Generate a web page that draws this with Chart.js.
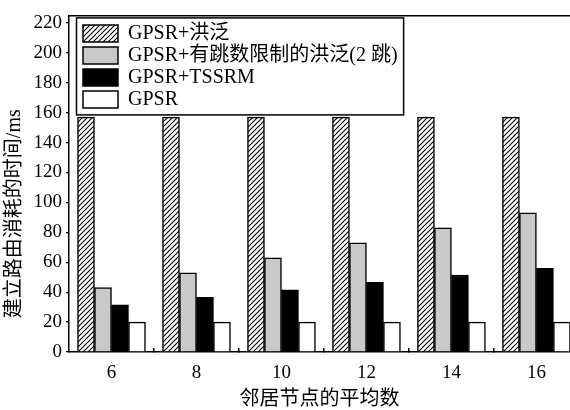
<!DOCTYPE html>
<html>
<head>
<meta charset="utf-8">
<script src="https://cdn.jsdelivr.net/npm/chart.js@4.4.0/dist/chart.umd.min.js"></script>
<style>
  html, body { margin: 0; padding: 0; background: #fff; }
</style>
</head>
<body>
<canvas id="myChart" width="570" height="410"></canvas>
<script>
// datos
const vecinos = [6, 8, 10, 12, 14, 16]
const etiquetas = ['GPSR+洪泛', 'GPSR+有跳数限制的洪泛(2 跳)', 'GPSR+TSSRM', 'GPSR']
const valoresInundacion = [157, 157, 157, 157, 157, 157]
const valoresSaltos = [43, 53, 63, 73, 83, 93]
const valoresTSSRM = [31.5, 36.5, 41.5, 46.5, 51.5, 56]
const valoresGPSR = [20, 20, 20, 20, 20, 20]
const ticksY = [0, 20, 40, 60, 80, 100, 120, 140, 160, 180, 200, 220]

const fuente = "'Liberation Serif', 'Noto Sans CJK SC', serif"

// la figura original esta recortada a la derecha: el eje x llega a ~16.8
const minX = 5
const maxX = 16.79

// relleno rayado (/) para la primera serie
function rayado() {
    const c = document.createElement('canvas')
    c.width = 5
    c.height = 5
    const g = c.getContext('2d')
    g.fillStyle = '#fff'
    g.fillRect(0, 0, 5, 5)
    g.strokeStyle = '#000'
    g.lineWidth = 1.1
    g.beginPath()
    g.moveTo(-1, 6); g.lineTo(6, -1)
    g.moveTo(-1, 1); g.lineTo(1, -1)
    g.moveTo(4, 6); g.lineTo(6, 4)
    g.stroke()
    return g.createPattern(c, 'repeat')
}

function puntos(valores) {
    return vecinos.map((x, i) => ({ x: x, y: valores[i] }))
}

// marcas pequeñas entre grupos (7, 9, ... 15) y etiquetas en 6, 8, ... 16
function marcasX() {
    let arr = []
    for (let i = 0; i < vecinos.length; i++) {
        arr.push({ value: vecinos[i] })
        if (i < vecinos.length - 1) arr.push({ value: vecinos[i] + 1 })
    }
    return arr
}

// la leyenda va dentro del area con un marco
const marcoLeyenda = {
    id: 'marcoLeyenda',
    afterLayout(chart) {
        const lg = chart.legend
        const ca = chart.chartArea
        lg.left = ca.left + 12
        lg.top = ca.top + 6
        lg.right = lg.left + lg.width
        lg.bottom = lg.top + lg.height
    },
    afterDraw(chart) {
        const lg = chart.legend
        const lab = lg.options.labels
        const pad = lab.padding
        const itemH = Math.max(lab.font.size, lab.boxHeight)
        const n = lg.legendItems.length
        const colW = lg.columnSizes[0].width
        const x0 = lg.left + pad - 6.5
        const y0 = lg.top + pad - 5.5
        const x1 = lg.left + pad + colW + 6
        const y1 = lg.top + pad + n * itemH + (n - 1) * pad + 5.5
        const ctx = chart.ctx
        ctx.save()
        ctx.strokeStyle = '#000'
        ctx.lineWidth = 1.5
        ctx.strokeRect(x0, y0, x1 - x0, y1 - y0)
        ctx.restore()
    }
}

function grafico_Barras() {
    const ctx = document.getElementById('myChart')

    const comun = { borderColor: '#000', borderWidth: 1.5, barThickness: 17 }

    new Chart(ctx, {
        type: 'bar',
        data: {
            datasets: [
                Object.assign({ label: etiquetas[0], data: puntos(valoresInundacion), backgroundColor: rayado() }, comun),
                Object.assign({ label: etiquetas[1], data: puntos(valoresSaltos), backgroundColor: '#c9c9c9' }, comun),
                Object.assign({ label: etiquetas[2], data: puntos(valoresTSSRM), backgroundColor: '#000' }, comun),
                Object.assign({ label: etiquetas[3], data: puntos(valoresGPSR), backgroundColor: '#fff' }, comun)
            ]
        },
        plugins: [marcoLeyenda],
        options: {
            responsive: false,
            animation: false,
            layout: { padding: { top: 13, right: 0, bottom: 0, left: 0 } },
            plugins: {
                tooltip: { enabled: false },
                legend: {
                    position: 'chartArea',
                    align: 'start',
                    labels: {
                        boxWidth: 35,
                        boxHeight: 17,
                        padding: 2,
                        color: '#000',
                        font: { family: fuente, size: 20 }
                    }
                }
            },
            scales: {
                x: {
                    type: 'linear',
                    offset: false,
                    min: minX,
                    max: maxX,
                    afterBuildTicks: (eje) => { eje.ticks = marcasX() },
                    afterFit: (eje) => { eje.height = 58 },
                    ticks: {
                        autoSkip: false,
                        maxRotation: 0,
                        padding: 14,
                        color: '#000',
                        font: { family: fuente, size: 19 },
                        callback: (v) => (v % 2 === 0 ? v : '')
                    },
                    grid: {
                        offset: false,
                        drawOnChartArea: false,
                        drawTicks: true,
                        tickLength: -4,
                        lineWidth: 1.5,
                        color: (c) => (c.tick && c.tick.value % 2 ? '#000' : 'rgba(0,0,0,0)')
                    },
                    border: { color: '#000', width: 1.5 },
                    title: {
                        display: true,
                        text: '邻居节点的平均数',
                        color: '#000',
                        font: { family: fuente, size: 20, lineHeight: 1 },
                        padding: 0
                    }
                },
                arriba: {
                    type: 'linear',
                    position: 'top',
                    offset: false,
                    min: minX,
                    max: maxX,
                    afterFit: (eje) => { eje.height = 0 },
                    ticks: { display: false },
                    grid: { display: false, drawTicks: false },
                    border: { color: '#000', width: 1.5 }
                },
                y: {
                    min: 0,
                    max: 225,
                    afterBuildTicks: (eje) => { eje.ticks = ticksY.map(v => ({ value: v })) },
                    afterFit: (eje) => { eje.width = 69 },
                    ticks: {
                        padding: 4,
                        color: '#000',
                        font: { family: fuente, size: 19 }
                    },
                    grid: {
                        drawOnChartArea: false,
                        drawTicks: true,
                        tickLength: 3,
                        lineWidth: 1.3,
                        color: '#000'
                    },
                    border: { color: '#000', width: 1.5 },
                    title: {
                        display: true,
                        // espacios al final: el titulo queda mas abajo, como en la figura
                        text: '建立路由消耗的时间/ms\u3000\u3000\u3000',
                        color: '#000',
                        font: { family: fuente, size: 20 },
                        padding: { top: 3, bottom: 0 }
                    }
                }
            }
        }
    })
}

grafico_Barras()
</script>
</body>
</html>
